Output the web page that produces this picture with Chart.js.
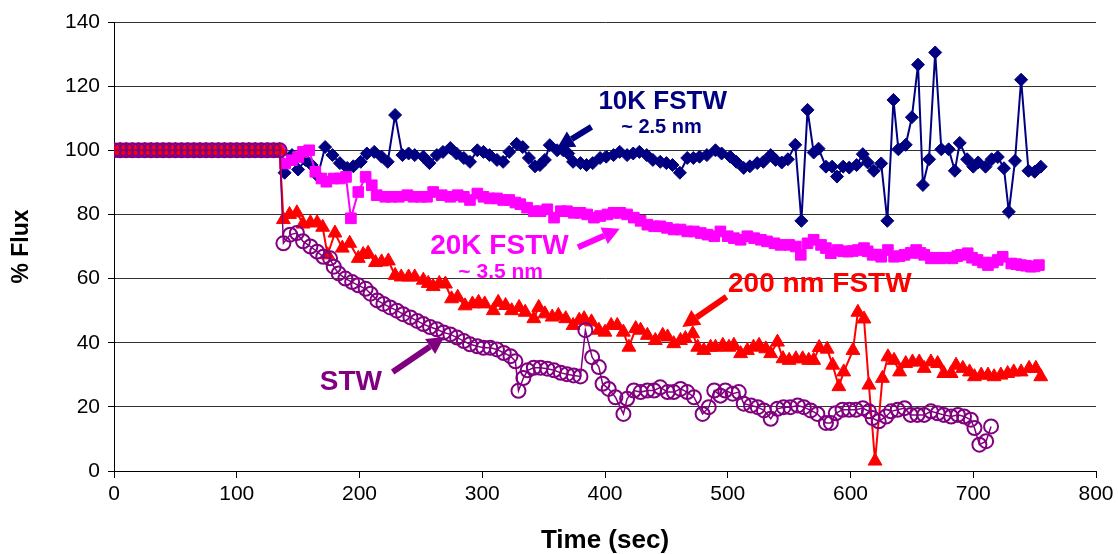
<!DOCTYPE html>
<html>
<head>
    <meta charset="UTF-8" />
    <title>% Flux vs Time</title>
    <script src="https://cdn.jsdelivr.net/npm/chart.js"></script>
    <style>
        html, body { margin: 0; padding: 0; background: #fff; }
        .content { width: 1118px; height: 554px; }
    </style>
</head>
<body>
    <div class="content">
        <canvas id="chart"></canvas>
    </div>

    <script>
        // shared start: all membranes at 100 % before the switch
        const flatTime = [0, 5, 10, 15, 20, 25, 30, 35, 40, 45, 50, 55, 60, 65, 70, 75, 80, 85, 90, 95,
            100, 105, 110, 115, 120, 125, 130, 135];
        const flatFlux = [100, 100, 100, 100, 100, 100, 100, 100, 100, 100, 100, 100, 100, 100, 100, 100,
            100, 100, 100, 100, 100, 100, 100, 100, 100, 100, 100, 100];

        // 10K FSTW (~2.5 nm)
        const fstw10kTime = [
            139, 145, 150, 156, 161, 166, 172, 178, 184, 190,
            195, 201, 206, 212, 218, 223, 229, 235, 240, 245,
            252, 257, 263, 268, 274, 279, 285, 290, 296, 301,
            306, 312, 317, 322, 328, 333, 338, 343, 347, 351,
            355, 361, 366, 370, 374, 380, 385, 390, 396, 401,
            407, 412, 418, 423, 428, 434, 439, 445, 450, 455,
            461, 467, 472, 477, 483, 490, 495, 502, 507, 513,
            518, 524, 529, 535, 539, 544, 549, 555, 560, 565,
            570, 574, 580, 585, 589, 594, 599, 605, 610, 614,
            619, 625, 630, 635, 639, 645, 650, 655, 659, 664,
            669, 674, 680, 685, 689, 695, 700, 704, 710, 715,
            720, 725, 729, 734, 739, 745, 750, 755];
        const fstw10kFlux = [
            93, 98.5, 94, 97, 95.4, 92, 101, 98.5, 96, 94.5,
            95, 96.4, 99, 99.5, 98, 96.4, 111, 98.5, 99, 98.5,
            98, 96, 98.5, 99.5, 100.7, 99, 97.6, 96.4, 100, 99.5,
            98.5, 97, 96.4, 99.5, 102, 101, 97.6, 95, 95.4, 97,
            101.6, 100, 100, 99, 96.4, 96, 95.4, 96, 97.6, 98,
            98.5, 99.5, 98.5, 99, 99.5, 98.5, 97, 96.4, 96, 95.4,
            93, 97.6, 97.6, 98, 98.5, 100, 99, 98, 96.4, 94.5,
            95, 96, 96.4, 98.5, 97, 96.2, 97.2, 101.7, 78, 112.6,
            99.3, 100.5, 94.9, 94.9, 91.8, 94.9, 94.6, 95.4, 98.8, 96.2,
            93.6, 95.9, 78, 115.7, 100.3, 101.7, 110.3, 126.7, 89.2, 97.2,
            130.5, 100.3, 100.3, 93.6, 102.3, 97.2, 94.9, 96.2, 94.9, 97.2,
            97.9, 94.4, 80.8, 96.7, 122, 93.6, 93.3, 94.9];

        // 20K FSTW (~3.5 nm)
        const fstw20kTime = [
            139.5, 145, 150, 154, 159, 164, 169, 173, 179, 184,
            189, 193, 199, 205, 210, 214, 221, 226, 232, 239,
            244, 250, 255, 260, 267, 274, 280, 285, 290, 296,
            301, 306, 312, 317, 322, 327, 331, 336.5, 342, 347.5,
            353, 358.5, 364, 369, 374.5, 380, 385.5, 391, 396, 402,
            407, 412.5, 418, 423.5, 429, 434.5, 440, 445, 450.5, 456,
            461.5, 467, 472.5, 478, 483.5, 489, 494, 500, 505, 510.5,
            516, 521.5, 527, 532, 538, 543, 550, 555.5, 559.5, 565,
            570, 576, 580, 584, 589.5, 594, 598, 602, 606, 611,
            614, 618, 621, 625, 630.5, 635.5, 640, 644, 649, 653.5,
            657, 660, 665.5, 669, 673.5, 678, 683, 687, 690, 695.5,
            699, 703.5, 708, 712, 716, 720, 724, 731, 735, 739,
            743, 747, 750, 753.5];
        const fstw20kFlux = [
            95.9, 96.9, 97.9, 99.5, 100, 93.3, 91.2, 90.2, 91.2, 91.2,
            91.7, 78.8, 87, 91.7, 89.1, 86, 85.5, 85.5, 85.5, 86,
            85.5, 85.5, 85.5, 87, 86, 85.5, 86, 85.5, 84.5, 86.5,
            85.5, 85, 85, 84.5, 84.5, 83.7, 83.2, 82.1, 81, 81,
            81.6, 79, 81, 81, 80.5, 80.5, 80, 79, 79.5, 80,
            80.5, 80.5, 80, 79, 78, 76.8, 76.3, 76.3, 75.8, 75.3,
            75.3, 74.7, 74.7, 74.2, 73.7, 73.2, 74.7, 73.2, 72.6, 72.1,
            73.2, 72.6, 72.1, 71.6, 71, 70.5, 70.5, 70, 67.4, 71,
            72.1, 70.5, 69.5, 67.9, 68.9, 68.5, 68.4, 68.6, 68.9, 69.5,
            68.5, 67.4, 67.5, 66.8, 68.9, 66.8, 67, 67.4, 68, 68.9,
            68, 67.4, 66.3, 66.5, 66.3, 66.5, 66.3, 67, 67.4, 67.9,
            66.5, 65.8, 65, 64.2, 65, 65.8, 66.8, 64.7, 64.5, 64.2,
            64, 63.7, 63.8, 64.2];

        // 200 nm FSTW
        const fstw200Time = [
            138, 143, 149, 154, 160, 165.5, 170, 174, 180, 186,
            192, 199, 203, 207, 213, 218, 223.5, 229, 234, 240,
            245, 252, 256, 260, 265, 270, 275, 280, 286, 292,
            297, 302, 309, 313, 319, 324, 330, 335, 342, 346,
            351, 357, 362, 368, 374, 379, 383, 389, 395, 400,
            405, 410, 415, 419.5, 425, 429, 434.5, 441, 447, 451,
            456, 461.5, 465.5, 471.5, 475.5, 480.5, 486, 490, 496, 501,
            505, 510.5, 516, 521, 525.5, 531, 535, 540.5, 545, 550,
            555.5, 561, 566, 570, 574.5, 581, 585.5, 590.5, 594.5, 602,
            606, 611, 615, 620, 626, 630.5, 635.5, 640, 645, 650.5,
            656, 660, 665.5, 671, 676, 682, 686, 691.5, 697, 701,
            706.5, 712, 717, 722.5, 728, 733, 739, 745.5, 751, 755];
        const fstw200Flux = [
            78.4, 80, 80.5, 77, 77.4, 77.4, 76, 67.4, 74.2, 69.5,
            71, 66.3, 67.5, 67.9, 65, 65.2, 65.5, 61, 60.5, 60.5,
            60.5, 59.5, 58.5, 57.5, 58.5, 58.3, 53.7, 54.2, 51.5, 52.1,
            52.6, 52.1, 50, 52.6, 51.6, 50, 51, 49.5, 47.5, 51,
            49, 48, 48.5, 47.5, 45.4, 47, 47.5, 46.5, 43.9, 43.3,
            45.4, 45.4, 43.3, 38.6, 44.4, 43.9, 42.3, 40.7, 42.3, 41.8,
            39.7, 40.7, 41.3, 42.8, 38.6, 37.6, 38.6, 38.6, 39.2, 38.6,
            39.2, 36.6, 37.6, 38.6, 39.2, 38.1, 36.6, 40.2, 35, 34.5,
            35, 35, 34.5, 34.5, 38.5, 38, 33, 26.3, 30.9, 37.6,
            49.5, 47.4, 26.8, 3.1, 28.9, 35.6, 34.5, 30.9, 33.5, 34,
            34, 32, 34, 33.5, 30.4, 30.4, 33, 32, 30.9, 29.4,
            29.9, 29.9, 29.4, 29.9, 30.4, 30.9, 30.9, 32, 32, 29.4];

        // STW
        const stwTime = [
            138, 143.5, 149, 154, 160, 165.5, 170.5, 176, 179, 183,
            188.5, 194, 199, 205, 209, 214.5, 219.5, 225, 230.5, 235.5,
            241.5, 247, 252, 257.5, 263, 268.5, 274, 279.5, 285, 290,
            296, 301, 306.5, 312, 317.5, 323, 327, 329.5, 333.5, 337,
            342, 347.5, 353, 358.5, 364, 369, 374.5, 380, 384, 389.5,
            395, 398, 403, 408.5, 415, 418, 423.5, 429, 434.5, 440,
            445, 451, 456, 461.5, 467, 472.5, 479.5, 484.5, 489, 494,
            498, 504, 509, 513, 519, 524.5, 529.5, 535, 540.5, 545.5,
            551, 557, 562, 567.5, 573, 580, 584, 588, 593.5, 599,
            604.5, 610, 615, 618, 623, 629, 633, 638.5, 644, 649,
            654.5, 660, 665.5, 671, 676, 682, 687.5, 692.5, 698, 701,
            705, 710.5, 714.5];
        const stwFlux = [
            71, 73.7, 74.2, 71.6, 70, 68.4, 66.8, 66.3, 63.7, 61.6,
            60, 58.9, 57.9, 56.8, 55.3, 53.2, 52.1, 51, 50, 48.9,
            47.9, 46.8, 45.8, 44.9, 44.2, 43.2, 42.6, 41.6, 40.5, 39.5,
            38.9, 38.4, 38.4, 37.9, 36.8, 35.8, 34.2, 25, 29, 31.4,
            32.2, 32.2, 31.9, 31.4, 30.6, 30.2, 29.8, 29.5, 43.9, 35.5,
            32.4, 27.2, 25.6, 23, 17.8, 22.5, 25.1, 24.6, 25.1, 25.1,
            26.1, 24.6, 24.6, 25.6, 24.6, 23, 17.8, 19.9, 25.1, 23.5,
            25.1, 24.1, 24.6, 21, 20.4, 19.9, 18.9, 16.3, 19.4, 19.9,
            19.9, 20.4, 19.9, 18.9, 17.8, 15, 15, 18, 19.1, 19.1,
            19.1, 19.6, 18.6, 16.5, 15.5, 17, 18.6, 19.1, 19.6, 17.5,
            17.5, 17.5, 18.6, 18, 17.5, 17, 17.5, 17, 16, 13.4,
            8.2, 9.3, 13.9];

        const xTicks = [0, 100, 200, 300, 400, 500, 600, 700, 800];
        const yTicks = [0, 20, 40, 60, 80, 100, 120, 140];

        // callout texts and arrows, placed in data units (time, % flux)
        const notes = [
            { text: '10K FSTW', t: 447, f: 115, color: '#000080', size: 26 },
            { text: '~ 2.5 nm', t: 446, f: 107, color: '#000080', size: 20 },
            { text: '20K FSTW', t: 314, f: 70, color: '#FF00FF', size: 28 },
            { text: '~ 3.5 nm', t: 315, f: 62, color: '#FF00FF', size: 21 },
            { text: '200 nm FSTW', t: 575, f: 58.3, color: '#FF0000', size: 28 },
            { text: 'STW', t: 193, f: 27.8, color: '#800080', size: 28 }
        ];
        const arrows = [
            { from: [389, 107.3], to: [361, 100.7], color: '#000080' },
            { from: [378, 69.8], to: [412, 75.5], color: '#FF00FF' },
            { from: [499, 54.3], to: [463, 44.9], color: '#FF0000' },
            { from: [227, 30.9], to: [269, 41.8], color: '#800080' }
        ];

        const font = "'Liberation Sans', Arial, sans-serif";

        function points(times, values) {
            const t = flatTime.concat(times);
            const v = flatFlux.concat(values);
            return t.map((x, i) => ({ x: x, y: v[i] }));
        }

        const callouts = {
            id: 'callouts',
            afterDatasetsDraw(chart) {
                const { ctx, scales: { x, y } } = chart;
                ctx.save();
                ctx.textAlign = 'center';
                ctx.textBaseline = 'middle';
                notes.forEach(n => {
                    ctx.fillStyle = n.color;
                    ctx.font = `bold ${n.size}px ${font}`;
                    ctx.fillText(n.text, x.getPixelForValue(n.t), y.getPixelForValue(n.f));
                });
                arrows.forEach(a => {
                    const x0 = x.getPixelForValue(a.from[0]), y0 = y.getPixelForValue(a.from[1]);
                    const x1 = x.getPixelForValue(a.to[0]), y1 = y.getPixelForValue(a.to[1]);
                    const ang = Math.atan2(y1 - y0, x1 - x0);
                    const head = 17, half = 9;
                    const bx = x1 - head * Math.cos(ang), by = y1 - head * Math.sin(ang);
                    ctx.strokeStyle = a.color;
                    ctx.fillStyle = a.color;
                    ctx.lineWidth = 6;
                    ctx.beginPath();
                    ctx.moveTo(x0, y0);
                    ctx.lineTo(bx, by);
                    ctx.stroke();
                    ctx.beginPath();
                    ctx.moveTo(x1, y1);
                    ctx.lineTo(bx + half * Math.sin(ang), by - half * Math.cos(ang));
                    ctx.lineTo(bx - half * Math.sin(ang), by + half * Math.cos(ang));
                    ctx.closePath();
                    ctx.fill();
                });
                ctx.restore();
            }
        };

        new Chart('chart', {
            type: 'line',
            data: {
                datasets: [
                    {
                        label: 'STW',
                        data: points(stwTime, stwFlux),
                        borderColor: '#800080',
                        borderWidth: 1.5,
                        pointStyle: 'circle',
                        pointRadius: 7,
                        pointBorderWidth: 2,
                        pointBorderColor: '#800080',
                        pointBackgroundColor: 'rgba(0,0,0,0)'
                    },
                    {
                        label: '200 nm FSTW',
                        data: points(fstw200Time, fstw200Flux),
                        borderColor: '#FF0000',
                        borderWidth: 2,
                        pointStyle: 'triangle',
                        pointRadius: 8,
                        pointBorderWidth: 1,
                        pointBorderColor: '#FF0000',
                        pointBackgroundColor: '#FF0000'
                    },
                    {
                        label: '20K FSTW',
                        data: points(fstw20kTime, fstw20kFlux),
                        borderColor: '#FF00FF',
                        borderWidth: 2,
                        pointStyle: 'rect',
                        pointRadius: 7.5,
                        pointBorderWidth: 1,
                        pointBorderColor: '#FF00FF',
                        pointBackgroundColor: '#FF00FF'
                    },
                    {
                        label: '10K FSTW',
                        data: points(fstw10kTime, fstw10kFlux),
                        borderColor: '#000080',
                        borderWidth: 2,
                        pointStyle: 'rectRot',
                        pointRadius: 6.5,
                        pointBorderWidth: 1,
                        pointBorderColor: '#000080',
                        pointBackgroundColor: '#000080'
                    }
                ]
            },
            plugins: [callouts],
            options: {
                responsive: true,
                maintainAspectRatio: false,
                animation: false,
                layout: { padding: { left: 0, right: 22, top: 22, bottom: 0 } },
                scales: {
                    x: {
                        type: 'linear',
                        min: 0,
                        max: 800,
                        afterFit: scale => { scale.height = 83; },
                        afterBuildTicks: scale => { scale.ticks = xTicks.map(v => ({ value: v })); },
                        ticks: { color: '#000', font: { family: font, size: 21 }, padding: 4, maxRotation: 0 },
                        grid: { drawOnChartArea: false, drawTicks: true, tickLength: 7, tickColor: '#000' },
                        border: { color: '#000', width: 1 },
                        title: {
                            display: true,
                            text: 'Time (sec)',
                            color: '#000',
                            font: { family: font, size: 26, weight: 'bold', lineHeight: 1 },
                            padding: { top: 0, bottom: 0 }
                        }
                    },
                    y: {
                        min: 0,
                        max: 140,
                        afterFit: scale => { scale.width = 114; },
                        afterBuildTicks: scale => { scale.ticks = yTicks.map(v => ({ value: v })); },
                        ticks: { color: '#000', font: { family: font, size: 21 }, padding: 8 },
                        grid: { color: '#333', lineWidth: 1, tickLength: 6, tickColor: '#000' },
                        border: { color: '#000', width: 1 },
                        title: {
                            display: true,
                            text: '% Flux',
                            color: '#000',
                            font: { family: font, size: 23, weight: 'bold', lineHeight: 1 },
                            padding: { top: 10, bottom: 0 }
                        }
                    }
                },
                plugins: {
                    legend: { display: false },
                    tooltip: { enabled: false }
                }
            }
        });
    </script>
</body>
</html>
